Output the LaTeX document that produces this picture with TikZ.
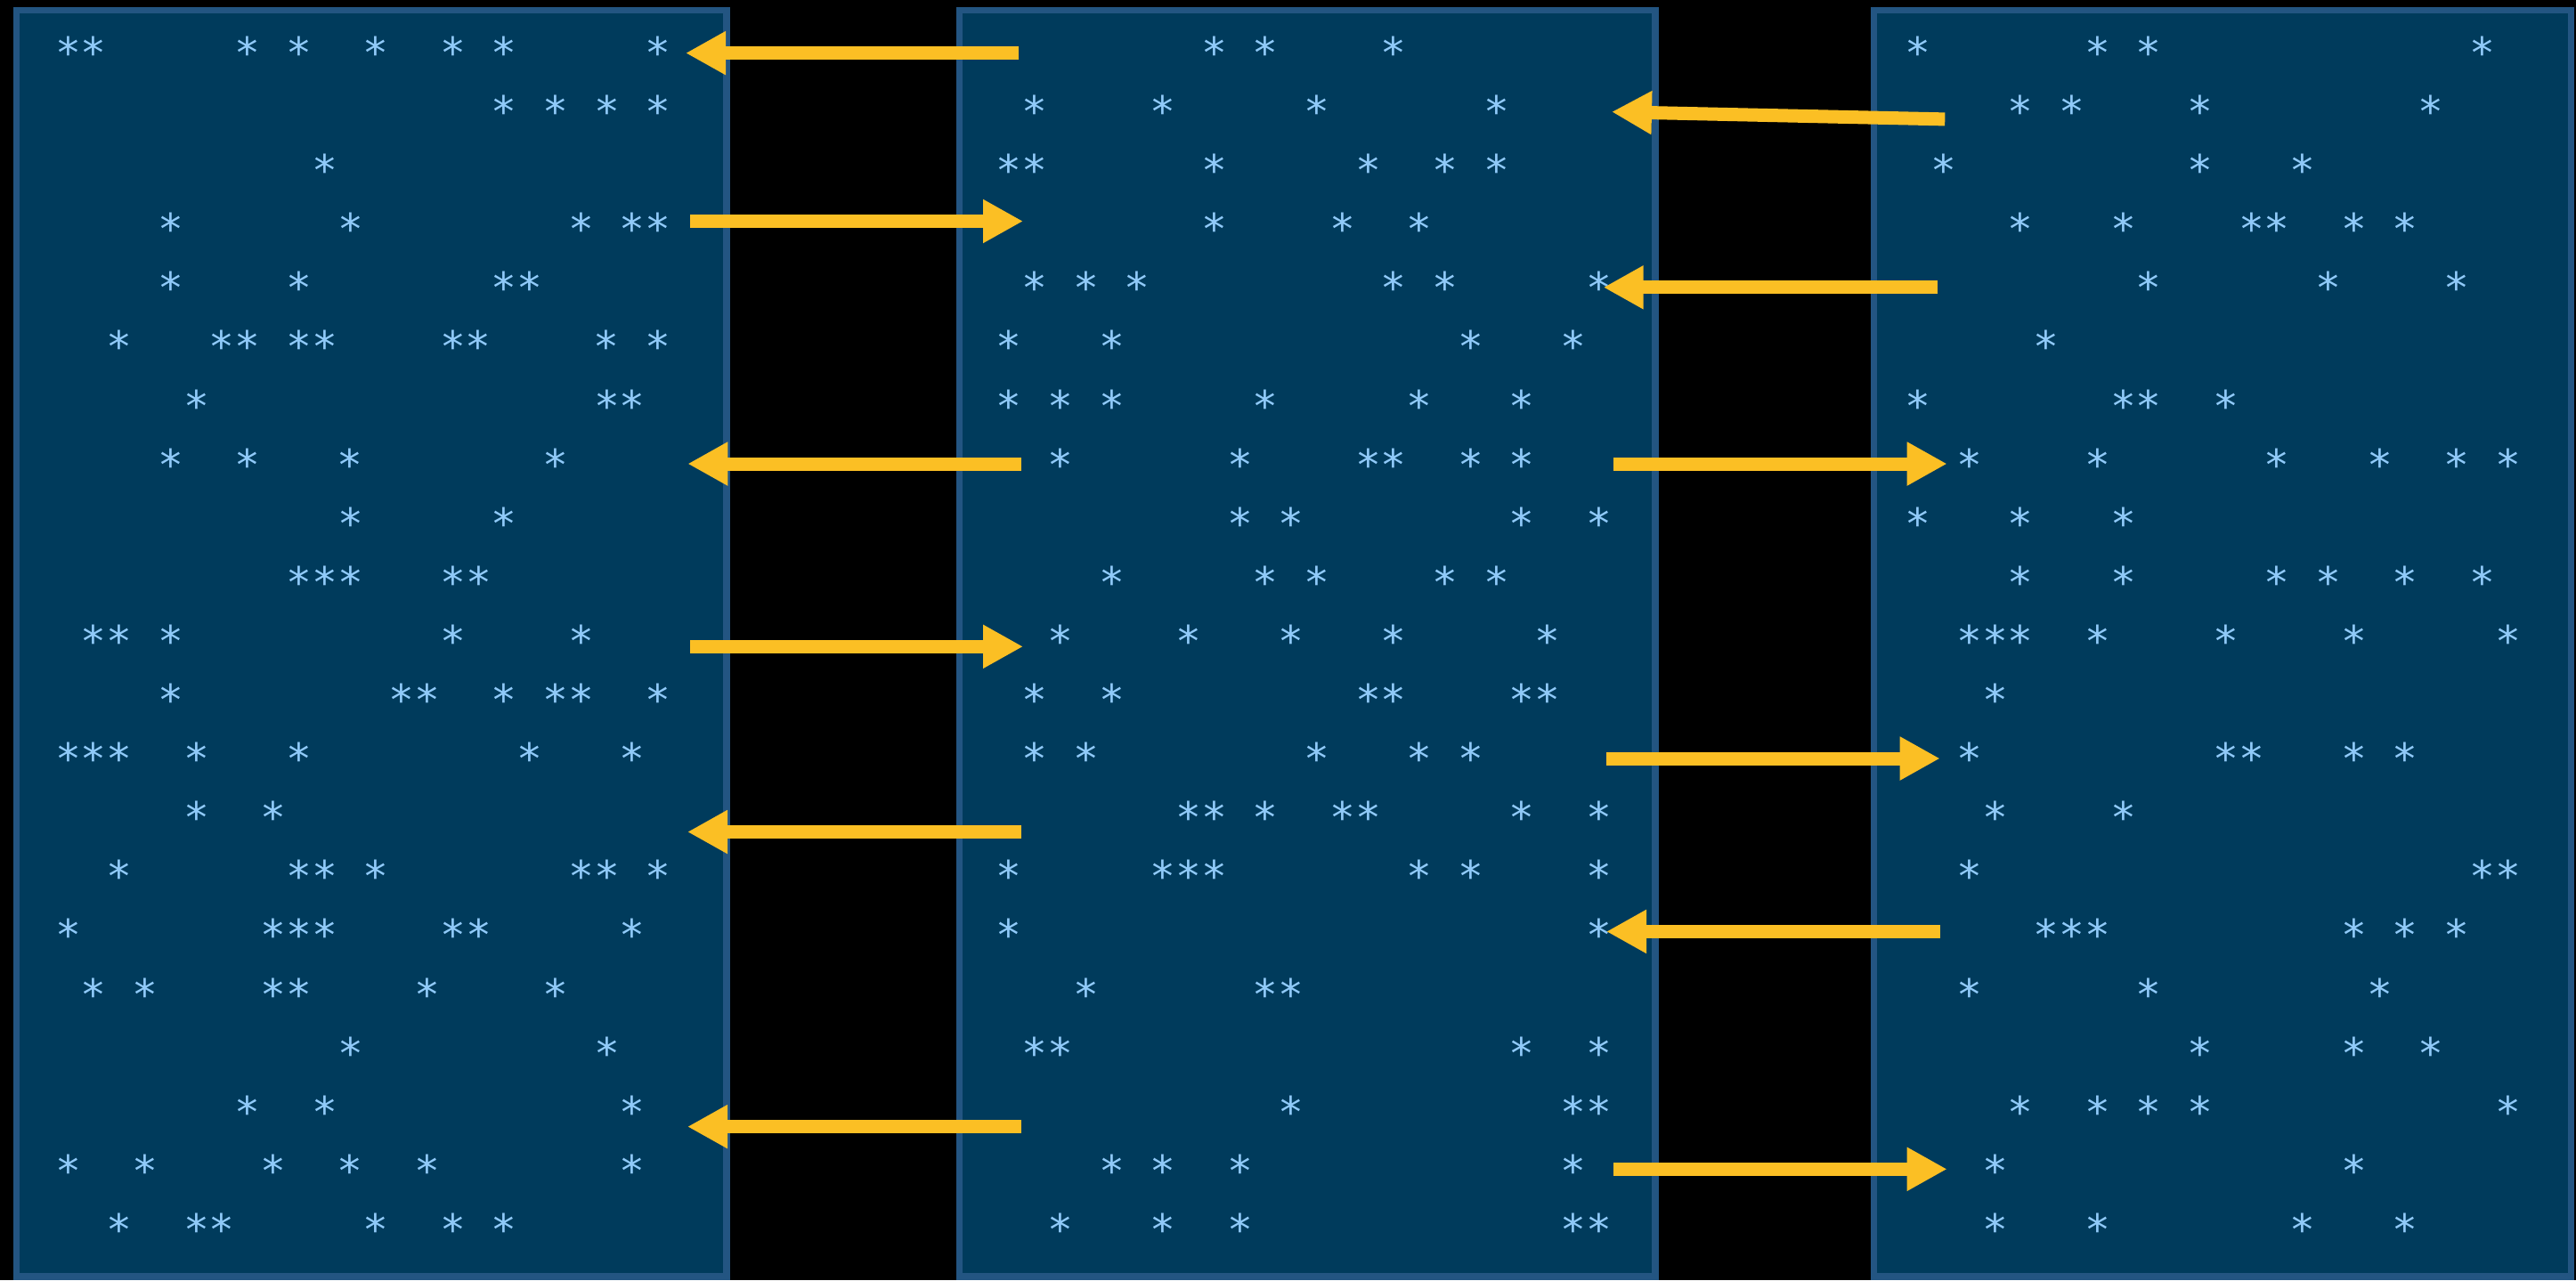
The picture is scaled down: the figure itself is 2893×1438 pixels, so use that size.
\documentclass[tikz,border=0pt]{standalone}
\usepackage{fontspec}
\newfontfamily\astfont{DejaVu Sans Mono}
\usetikzlibrary{arrows.meta}
\definecolor{bgpanel}{HTML}{003B5C}
\definecolor{panelborder}{HTML}{235582}
\definecolor{astcol}{HTML}{90CAF9}
\definecolor{arrowcol}{HTML}{FBBF24}
\newcommand\g[1]{\hskip#1\fontcharwd\font`\*\relax}
\newcommand\astrow[5]{\node[astline] (#1) at ({#2+#4*28.8-14.4},{51.7+66.1*#3+24.7}) {#5};}
\tikzset{
  panel/.style={draw=panelborder, fill=bgpanel, line width=1.875pt, inner sep=0pt, rectangle},
  astline/.style={anchor=base west, inner sep=0pt, outer sep=0pt, text=astcol, font=\astfont\fontsize{11.96}{12}\selectfont},
  arr/.style={draw=arrowcol, line width=3.75pt, -{Triangle[length=11.25pt,width=11.5pt]}}
}
\begin{document}
\begin{tikzpicture}[x=0.25pt, y=-0.25pt]
\useasboundingbox (0,0) rectangle (2893,1438);
\fill[black] (0,0) rectangle (2893,1438);
% panels
\node[panel, minimum width=199.33pt, minimum height=355.58pt] (p1) at (417.35,722.85) {};
\node[panel, minimum width=195.4pt, minimum height=355.58pt] (p2) at (1468.2,722.85) {};
\node[panel, minimum width=195.8pt, minimum height=355.58pt] (p3) at (2495.9,722.85) {};
% panel 1 text
\astrow{p1r0}{76.6}{0}{0}{**\g5*\g1*\g2*\g2*\g1*\g5*}
\astrow{p1r1}{76.6}{1}{17}{*\g1*\g1*\g1*}
\astrow{p1r2}{76.6}{2}{10}{*}
\astrow{p1r3}{76.6}{3}{4}{*\g6*\g8*\g1**}
\astrow{p1r4}{76.6}{4}{4}{*\g4*\g7**}
\astrow{p1r5}{76.6}{5}{2}{*\g3**\g1**\g4**\g4*\g1*}
\astrow{p1r6}{76.6}{6}{5}{*\g{15}**}
\astrow{p1r7}{76.6}{7}{4}{*\g2*\g3*\g7*}
\astrow{p1r8}{76.6}{8}{11}{*\g5*}
\astrow{p1r9}{76.6}{9}{9}{***\g3**}
\astrow{p1r10}{76.6}{10}{1}{**\g1*\g{10}*\g4*}
\astrow{p1r11}{76.6}{11}{4}{*\g8**\g2*\g1**\g2*}
\astrow{p1r12}{76.6}{12}{0}{***\g2*\g3*\g8*\g3*}
\astrow{p1r13}{76.6}{13}{5}{*\g2*}
\astrow{p1r14}{76.6}{14}{2}{*\g6**\g1*\g7**\g1*}
\astrow{p1r15}{76.6}{15}{0}{*\g7***\g4**\g5*}
\astrow{p1r16}{76.6}{16}{1}{*\g1*\g4**\g4*\g4*}
\astrow{p1r17}{76.6}{17}{11}{*\g9*}
\astrow{p1r18}{76.6}{18}{7}{*\g2*\g{11}*}
\astrow{p1r19}{76.6}{19}{0}{*\g2*\g4*\g2*\g2*\g7*}
\astrow{p1r20}{76.6}{20}{2}{*\g2**\g5*\g2*\g1*}
% panel 2 text
\astrow{p2r0}{1133.2}{0}{8}{*\g1*\g4*}
\astrow{p2r1}{1133.2}{1}{1}{*\g4*\g5*\g6*}
\astrow{p2r2}{1133.2}{2}{0}{**\g6*\g5*\g2*\g1*}
\astrow{p2r3}{1133.2}{3}{8}{*\g4*\g2*}
\astrow{p2r4}{1133.2}{4}{1}{*\g1*\g1*\g9*\g1*\g5*}
\astrow{p2r5}{1133.2}{5}{0}{*\g3*\g{13}*\g3*}
\astrow{p2r6}{1133.2}{6}{0}{*\g1*\g1*\g5*\g5*\g3*}
\astrow{p2r7}{1133.2}{7}{2}{*\g6*\g4**\g2*\g1*}
\astrow{p2r8}{1133.2}{8}{9}{*\g1*\g8*\g2*}
\astrow{p2r9}{1133.2}{9}{4}{*\g5*\g1*\g4*\g1*}
\astrow{p2r10}{1133.2}{10}{2}{*\g4*\g3*\g3*\g5*}
\astrow{p2r11}{1133.2}{11}{1}{*\g2*\g9**\g4**}
\astrow{p2r12}{1133.2}{12}{1}{*\g1*\g8*\g3*\g1*}
\astrow{p2r13}{1133.2}{13}{7}{**\g1*\g2**\g5*\g2*}
\astrow{p2r14}{1133.2}{14}{0}{*\g5***\g7*\g1*\g4*}
\astrow{p2r15}{1133.2}{15}{0}{*\g{22}*}
\astrow{p2r16}{1133.2}{16}{3}{*\g6**}
\astrow{p2r17}{1133.2}{17}{1}{**\g{17}*\g2*}
\astrow{p2r18}{1133.2}{18}{11}{*\g{10}**}
\astrow{p2r19}{1133.2}{19}{4}{*\g1*\g2*\g{12}*}
\astrow{p2r20}{1133.2}{20}{2}{*\g3*\g2*\g{12}**}
% panel 3 text
\astrow{p3r0}{2154}{0}{0}{*\g6*\g1*\g{12}*}
\astrow{p3r1}{2154}{1}{4}{*\g1*\g4*\g8*}
\astrow{p3r2}{2154}{2}{1}{*\g9*\g3*}
\astrow{p3r3}{2154}{3}{4}{*\g3*\g4**\g2*\g1*}
\astrow{p3r4}{2154}{4}{9}{*\g6*\g4*}
\astrow{p3r5}{2154}{5}{5}{*}
\astrow{p3r6}{2154}{6}{0}{*\g7**\g2*}
\astrow{p3r7}{2154}{7}{2}{*\g4*\g6*\g3*\g2*\g1*}
\astrow{p3r8}{2154}{8}{0}{*\g3*\g3*}
\astrow{p3r9}{2154}{9}{4}{*\g3*\g5*\g1*\g2*\g2*}
\astrow{p3r10}{2154}{10}{2}{***\g2*\g4*\g4*\g5*}
\astrow{p3r11}{2154}{11}{3}{*}
\astrow{p3r12}{2154}{12}{2}{*\g9**\g3*\g1*}
\astrow{p3r13}{2154}{13}{3}{*\g4*}
\astrow{p3r14}{2154}{14}{2}{*\g{19}**}
\astrow{p3r15}{2154}{15}{5}{***\g9*\g1*\g1*}
\astrow{p3r16}{2154}{16}{2}{*\g6*\g8*}
\astrow{p3r17}{2154}{17}{11}{*\g5*\g2*}
\astrow{p3r18}{2154}{18}{4}{*\g2*\g1*\g1*\g{11}*}
\astrow{p3r19}{2154}{19}{3}{*\g{13}*}
\astrow{p3r20}{2154}{20}{3}{*\g3*\g7*\g3*}
% arrow end points
\coordinate (a1s) at (1144.3,59.6);  \coordinate (a1e) at (770,59.6);
\coordinate (a2s) at (775,248.5);    \coordinate (a2e) at (1149,248.5);
\coordinate (a3s) at (1146.7,521);   \coordinate (a3e) at (772.3,521);
\coordinate (a4s) at (775,726.3);    \coordinate (a4e) at (1149,726.3);
\coordinate (a5s) at (1146.7,934.5); \coordinate (a5e) at (772,934.5);
\coordinate (a6s) at (1146.7,1265.6);\coordinate (a6e) at (772,1265.6);
\coordinate (b1s) at (2184.3,133.9); \coordinate (b1e) at (1810,125.6);
\coordinate (b2s) at (2176.3,322.8); \coordinate (b2e) at (1800.7,322.8);
\coordinate (b3s) at (1812,521);     \coordinate (b3e) at (2186.7,521);
\coordinate (b4s) at (1804,852);     \coordinate (b4e) at (2178.7,852);
\coordinate (b5s) at (2179,1046.4);  \coordinate (b5e) at (1804,1046.4);
\coordinate (b6s) at (1812,1313.3);  \coordinate (b6e) at (2186.7,1313.3);
\foreach \n in {a1,a2,a3,a4,a5,a6,b1,b2,b3,b4,b5,b6}
  \draw[arr] (\n s) -- (\n e);
\end{tikzpicture}
\end{document}
